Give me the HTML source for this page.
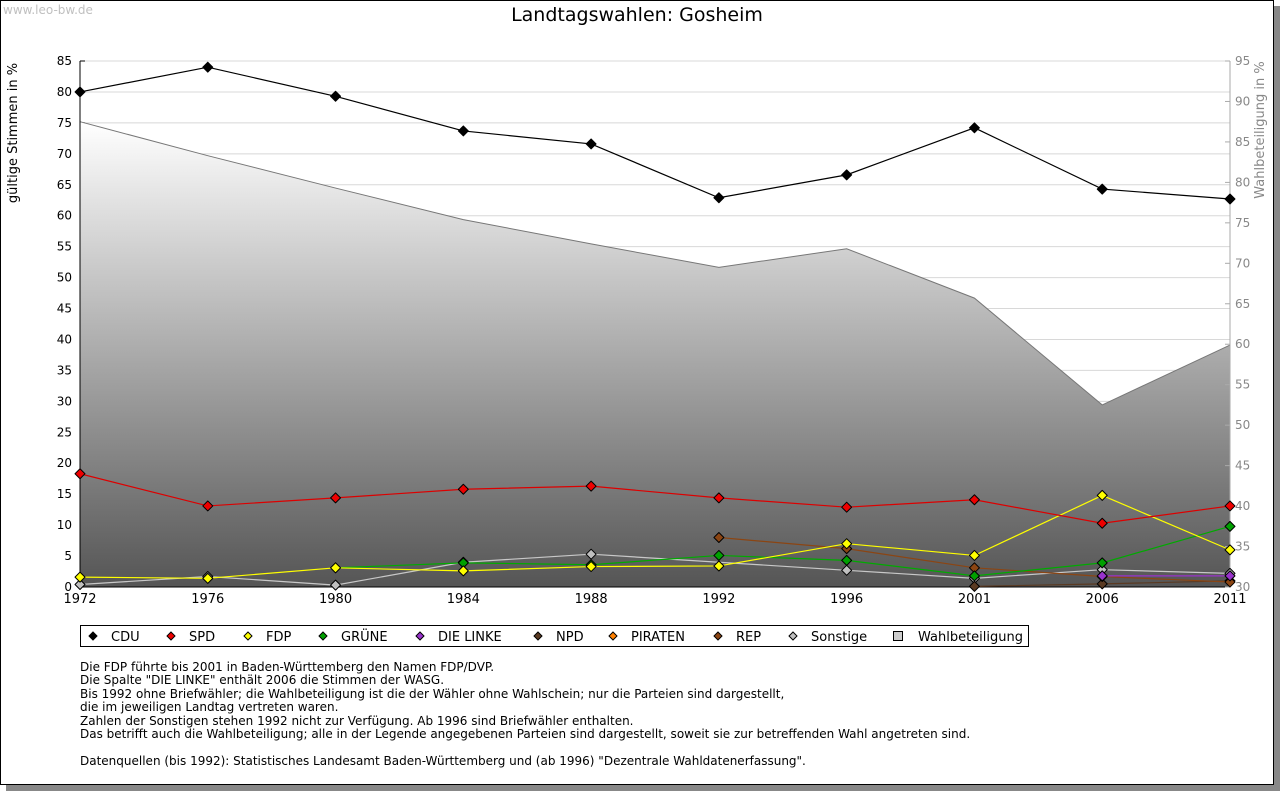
<!DOCTYPE html>
<html><head><meta charset="utf-8"><style>
body{margin:0;background:#fff;font-family:"DejaVu Sans","Liberation Sans",sans-serif;}
#frame{position:absolute;left:0;top:0;width:1272px;height:783px;border:1px solid #000;background:#fff;box-shadow:6px 6px 0 #888;}
.note{position:absolute;left:80px;top:661px;font-size:12px;line-height:13.4px;color:#000;}
svg text{font-family:"DejaVu Sans","Liberation Sans",sans-serif;}
</style></head><body>
<div id="frame"></div>
<svg id="chart" width="1280" height="791" style="position:absolute;left:0;top:0" xmlns="http://www.w3.org/2000/svg">
<defs><linearGradient id="ag" x1="0" y1="0" x2="0" y2="1"><stop offset="0" stop-color="#ffffff"/><stop offset="1" stop-color="#555555"/></linearGradient></defs>
<text x="3" y="14" font-size="12" fill="#c0c0c0">www.leo-bw.de</text>
<text x="637" y="21" font-size="19" text-anchor="middle">Landtagswahlen: Gosheim</text>
<text transform="translate(17,133) rotate(-90)" font-size="13" text-anchor="middle">gültige Stimmen in %</text>
<text transform="translate(1264,130) rotate(-90)" font-size="13" text-anchor="middle" fill="#888">Wahlbeteiligung in %</text>
<g id="g"></g>
</svg>
<div class="note">Die FDP führte bis 2001 in Baden-Württemberg den Namen FDP/DVP.<br>Die Spalte "DIE LINKE" enthält 2006 die Stimmen der WASG.<br>Bis 1992 ohne Briefwähler; die Wahlbeteiligung ist die der Wähler ohne Wahlschein; nur die Parteien sind dargestellt,<br>die im jeweiligen Landtag vertreten waren.<br>Zahlen der Sonstigen stehen 1992 nicht zur Verfügung. Ab 1996 sind Briefwähler enthalten.<br>Das betrifft auch die Wahlbeteiligung; alle in der Legende angegebenen Parteien sind dargestellt, soweit sie zur betreffenden Wahl angetreten sind.<br><br>Datenquellen (bis 1992): Statistisches Landesamt Baden-Württemberg und (ab 1996) "Dezentrale Wahldatenerfassung".</div>
<script>
const years=["1972","1976","1980","1984","1988","1992","1996","2001","2006","2011"];
const leftTicks=[0,5,10,15,20,25,30,35,40,45,50,55,60,65,70,75,80,85];
const rightTicks=[30,35,40,45,50,55,60,65,70,75,80,85,90,95];
const turnout=[87.5,83.3,79.3,75.4,72.4,69.5,71.8,65.7,52.5,59.9];
const cdu=[80.0,84.0,79.3,73.7,71.6,62.9,66.6,74.2,64.3,62.7];
const spd=[18.3,13.1,14.4,15.8,16.3,14.4,12.9,14.1,10.3,13.1];
const fdp=[1.6,1.4,3.1,2.6,3.3,3.4,7.0,5.1,14.8,6.0];
const gruene=[null,null,3.1,3.9,3.6,5.1,4.3,1.8,3.9,9.8];
const linke=[null,null,null,null,null,null,null,null,1.8,1.8];
const npd=[null,null,null,null,null,null,null,0.1,0.5,1.0];
const rep=[null,null,null,null,null,8.0,6.2,3.1,1.7,0.8];
const sonstige=[0.4,1.7,0.3,4.0,5.3,null,2.7,1.4,2.8,2.2];
const X0=80,X1=1230,Y0=587,Y1=61;
const xs=i=>X0+(X1-X0)*i/(years.length-1);
const yl=v=>Y0-(Y0-Y1)*v/85;
const yr=v=>Y0-(Y0-Y1)*(v-30)/65;
const g=document.getElementById('g');
const NS='http://www.w3.org/2000/svg';
function mk(t,a){const e=document.createElementNS(NS,t);for(const k in a)e.setAttribute(k,a[k]);g.appendChild(e);return e;}
leftTicks.forEach(v=>{if(v>0){const l=mk('line',{x1:X0,x2:X1,y1:yl(v),y2:yl(v),stroke:'#d8d8d8'});

}
const t=mk('text',{x:X0-8,y:yl(v)+4,'font-size':12,'text-anchor':'end'});t.textContent=v;


mk('line',{x1:X0,x2:X0+5,y1:yl(v),y2:yl(v),stroke:'#000'});});
let d='M'+xs(0)+','+Y0;turnout.forEach((v,i)=>d+=' L'+xs(i)+','+yr(v));d+=' L'+xs(9)+','+Y0+'Z';
const ar=mk('path',{d:d,fill:'url(#ag)'});


let d2='';turnout.forEach((v,i)=>d2+=(i?' L':'M')+xs(i)+','+yr(v));
mk('path',{d:d2,fill:'none',stroke:'#777'});
mk('line',{x1:X0,x2:X0,y1:Y1,y2:Y0,stroke:'#000'});
mk('line',{x1:X0,x2:X1,y1:Y0,y2:Y0,stroke:'#000'});
mk('line',{x1:X1,x2:X1,y1:Y1,y2:Y0,stroke:'#aaa'});
rightTicks.forEach(v=>{mk('line',{x1:X1-5,x2:X1,y1:yr(v),y2:yr(v),stroke:'#aaa'});
const t=mk('text',{x:X1+5,y:yr(v)+4,'font-size':12,fill:'#888'});t.textContent=v;

});
years.forEach((y,i)=>{const t=mk('text',{x:xs(i),y:Y0+16,'font-size':13,'text-anchor':'middle'});t.textContent=y;

});
const series=[['sonstige',sonstige,'#c0c0c0'],['npd',npd,'#5a3a22'],['rep',rep,'#8b4513'],['linke',linke,'#9933cc'],['gruene',gruene,'#00a000'],['fdp',fdp,'#ffff00'],['spd',spd,'#ee0000'],['cdu',cdu,'#000000']];
const lineCol={sonstige:'#c8c8c8',npd:'#5a3a22',rep:'#8b4513',linke:'#9933cc',gruene:'#00aa00',fdp:'#ffff00',spd:'#dd0000',cdu:'#000'};
series.forEach(([n,arr,c])=>{let p='';arr.forEach((v,i)=>{if(v!==null)p+=(p?' L':'M')+xs(i)+','+yl(v);});
const l=mk('path',{d:p,fill:'none',stroke:lineCol[n],'stroke-width':1.2});


arr.forEach((v,i)=>{if(v===null)return;const x=xs(i),y=yl(v);
const m=mk('path',{d:`M${x},${y-5} L${x+5},${y} L${x},${y+5} L${x-5},${y}Z`,fill:c,stroke:'#000','stroke-width':1,'stroke-linejoin':'round'});

});});
const lg=mk('rect',{x:80.5,y:625.5,width:948,height:21,fill:'#fff',stroke:'#000'});


const leg=[['CDU','#000',93],['SPD','#ee0000',171],['FDP','#ffff00',248],['GRÜNE','#00a000',323],['DIE LINKE','#9933cc',420],['NPD','#5a3a22',538],['PIRATEN','#ff8000',613],['REP','#8b4513',718],['Sonstige','#c0c0c0',793]];
leg.forEach(([n,c,x])=>{const y=636;
mk('path',{d:`M${x},${y-4} L${x+4},${y} L${x},${y+4} L${x-4},${y}Z`,fill:c,stroke:'#000'});
const t=mk('text',{x:x+18,y:y+5,'font-size':13});t.textContent=n;

});
mk('rect',{x:893.5,y:631.5,width:9,height:9,fill:'#ccc',stroke:'#000'});
const wt=mk('text',{x:918,y:641,'font-size':13});wt.textContent='Wahlbeteiligung';


</script>
</body></html>
